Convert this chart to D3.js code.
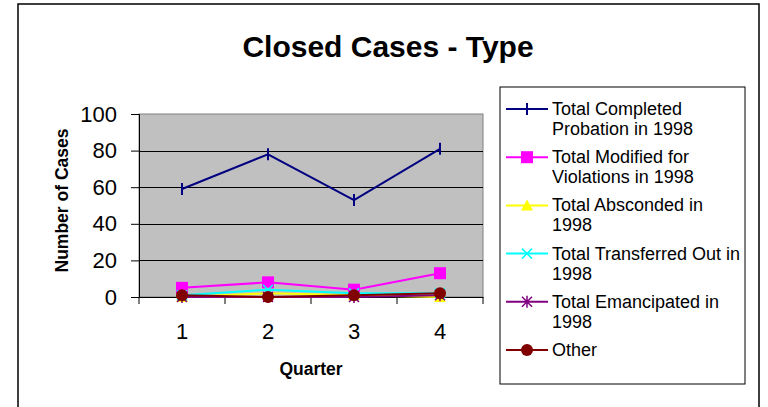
<!DOCTYPE html>
<html><head><meta charset="utf-8">
<script src="https://cdn.jsdelivr.net/npm/d3@7"></script>
<style>body{margin:0;background:#fff}svg{display:block}text{font-family:Arial,"Liberation Sans",sans-serif}</style>
</head><body>
<svg id="c" width="768" height="407"></svg>
<script>
const quarters = ["1","2","3","4"];
const seriesNames = [
  ["Total Completed","Probation in 1998"],
  ["Total Modified for","Violations in 1998"],
  ["Total Absconded in","1998"],
  ["Total Transferred Out in","1998"],
  ["Total Emancipated in","1998"],
  ["Other"]
];
const completed = [59, 78, 53, 81];
const modified = [5, 8, 4, 13];
const absconded = [0, 2, 1, 0];
const transferred = [1, 4, 2, 2];
const emancipated = [0, 0, 0, 1];
const other = [1, 0, 1, 2];
const yTicks = [0, 20, 40, 60, 80, 100];
const colors = ["#000080","#FF00FF","#FFFF00","#00FFFF","#800080","#800000"];
const markers = ["dash","square","triangle","x","star","circle"];
const allSeries = [completed, modified, absconded, transferred, emancipated, other];

const svg = d3.select("#c");
svg.append("rect").attr("x",18).attr("y",4).attr("width",741).attr("height",420)
  .attr("fill","#fff").attr("stroke","#000").attr("stroke-width",1.5);

svg.append("text").attr("x",388).attr("y",57).attr("text-anchor","middle")
  .attr("font-size",30).attr("font-weight","bold").text("Closed Cases - Type");

const L=139, R=483, T=114, B=297;
const x = d3.scaleBand().domain(quarters).range([L,R]);
const y = d3.scaleLinear().domain([0,100]).range([B,T]);

svg.append("rect").attr("x",L).attr("y",T).attr("width",R-L).attr("height",B-T)
  .attr("fill","#C0C0C0").attr("stroke","#808080").attr("stroke-width",1);
svg.append("g").selectAll("line").data(yTicks.filter(d=>d>0&&d<100)).join("line")
  .attr("x1",L).attr("x2",R).attr("y1",d=>Math.round(y(d))+0.5).attr("y2",d=>Math.round(y(d))+0.5)
  .attr("stroke","#000").attr("stroke-width",1);

const ya = svg.append("g").attr("transform",`translate(${L},0)`)
  .call(d3.axisLeft(y).tickValues(yTicks).tickSize(8).tickPadding(14));
ya.selectAll("text").attr("font-size",22).attr("fill","#000").attr("font-family","Arial, Liberation Sans, sans-serif");
ya.selectAll("line,path").attr("stroke","#000");

const xa = svg.append("g").attr("transform",`translate(0,${B})`)
  .call(d3.axisBottom(x).tickSize(0).tickPadding(22));
xa.selectAll("text").attr("font-size",22).attr("fill","#000").attr("font-family","Arial, Liberation Sans, sans-serif").attr("dy","0.9em");
xa.select("path").attr("stroke","#000");
xa.selectAll("line.bt").data(d3.range(quarters.length+1)).join("line").attr("class","bt")
  .attr("x1",i=>L+i*x.step()).attr("x2",i=>L+i*x.step()).attr("y1",0).attr("y2",7).attr("stroke","#000");

svg.append("text").attr("transform",`translate(68,${(T+B)/2-5}) rotate(-90)`).attr("text-anchor","middle")
  .attr("font-size",17.5).attr("font-weight","bold").text("Number of Cases");
svg.append("text").attr("x",(L+R)/2).attr("y",375).attr("text-anchor","middle")
  .attr("font-size",17.5).attr("font-weight","bold").text("Quarter");

function drawMarker(g, type, color, cx, cy){
  if(type==="dash") g.append("line").attr("x1",cx).attr("x2",cx).attr("y1",cy-6).attr("y2",cy+6).attr("stroke",color).attr("stroke-width",2);
  else if(type==="square") g.append("rect").attr("x",cx-6).attr("y",cy-6).attr("width",12).attr("height",12).attr("fill",color);
  else if(type==="triangle") g.append("path").attr("d",`M${cx},${cy-6}L${cx+6},${cy+5}L${cx-6},${cy+5}Z`).attr("fill",color);
  else if(type==="x") g.append("path").attr("d",`M${cx-5},${cy-5}L${cx+5},${cy+5}M${cx-5},${cy+5}L${cx+5},${cy-5}`).attr("stroke",color).attr("stroke-width",1.5);
  else if(type==="star") g.append("path").attr("d",`M${cx-5},${cy-5}L${cx+5},${cy+5}M${cx-5},${cy+5}L${cx+5},${cy-5}M${cx},${cy-6}L${cx},${cy+6}`).attr("stroke",color).attr("stroke-width",1.5);
  else if(type==="circle") g.append("circle").attr("cx",cx).attr("cy",cy).attr("r",6).attr("fill",color);
}

const line = d3.line().x((d,i)=>x(quarters[i])+x.bandwidth()/2).y(d=>y(d));
allSeries.forEach((s,k)=>{
  const g = svg.append("g");
  g.append("path").attr("d",line(s)).attr("fill","none").attr("stroke",colors[k]).attr("stroke-width",2);
  s.forEach((v,i)=>drawMarker(g, markers[k], colors[k], x(quarters[i])+x.bandwidth()/2, y(v)));
});

// legend
svg.append("rect").attr("x",500).attr("y",87).attr("width",245).attr("height",297)
  .attr("fill","#fff").attr("stroke","#000").attr("stroke-width",1);
seriesNames.forEach((lines,k)=>{
  const ly = 109 + k*48.2;
  const g = svg.append("g");
  g.append("line").attr("x1",506).attr("x2",548).attr("y1",ly).attr("y2",ly).attr("stroke",colors[k]).attr("stroke-width",2);
  drawMarker(g, markers[k], colors[k], 527, ly);
  const t = g.append("text").attr("x",552).attr("y",ly+6).attr("font-size",18);
  lines.forEach((ln,j)=>t.append("tspan").attr("x",552).attr("dy",j?20:0).text(ln));
});
</script>
</body></html>
